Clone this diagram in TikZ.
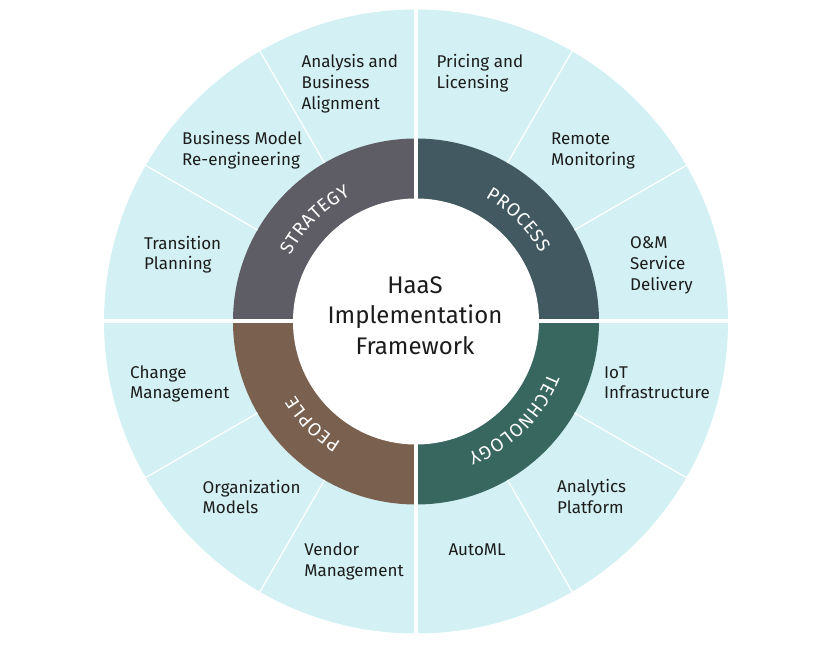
\documentclass[tikz,border=0pt]{standalone}
\usepackage{fontspec}
\setmainfont{Fira Sans}
\usetikzlibrary{decorations.text}
\definecolor{ringbg}{HTML}{D3F1F4}
\definecolor{cstrat}{HTML}{5E5D65}
\definecolor{cproc}{HTML}{435961}
\definecolor{ctech}{HTML}{37675F}
\definecolor{cpeop}{HTML}{7A604F}
\definecolor{ink}{HTML}{1C1C1C}
\newcommand{\lbl}[1]{\begin{tabular}[t]{@{}l@{}}#1\end{tabular}}
\newcommand{\ringfmt}{\fontsize{18.5}{22}\selectfont\kern0.6pt}
\begin{document}
\begin{tikzpicture}[x=1pt,y=1pt,
  lab/.style={anchor=base west, inner sep=0pt, text=ink, font=\fontsize{17}{20.7}\selectfont},
  ringtext/.style={decorate, decoration={text along path, text align=center, text color=white, text={#1}}},
  divider/.style={white, line width=1.2pt},
  gapline/.style={white, line width=4pt}
]
\useasboundingbox (-416,-325.5) rectangle (403,321.5);
\fill[white] (-416,-325.5) rectangle (403,321.5);
% outer ring
\fill[ringbg] (0,0) circle[radius=312];
% inner ring quadrants
\fill[cstrat] (0,0) -- (180:183) arc[start angle=180,end angle=90,radius=183] -- cycle;
\fill[cproc]  (0,0) -- (90:183) arc[start angle=90,end angle=0,radius=183] -- cycle;
\fill[ctech]  (0,0) -- (0:183) arc[start angle=0,end angle=-90,radius=183] -- cycle;
\fill[cpeop]  (0,0) -- (270:183) arc[start angle=270,end angle=180,radius=183] -- cycle;
\fill[white] (0,0) circle[radius=123];
% thin dividers
\foreach \a in {30,60,120,150,210,240,300,330}
  \draw[divider] (\a:183) -- (\a:313);
% quadrant gaps
\draw[gapline] (-316,0) -- (316,0);
\draw[gapline] (0,-316) -- (0,316);
% ring labels
\path[ringtext={|\ringfmt|STRATEGY}] (180:142) arc[start angle=180,end angle=90,radius=142];
\path[ringtext={|\ringfmt|PROCESS}] (90:142) arc[start angle=90,end angle=0,radius=142];
\path[ringtext={|\ringfmt|TECHNOLOGY}] (0:142) arc[start angle=0,end angle=-90,radius=142];
\path[ringtext={|\ringfmt|PEOPLE}] (270:142) arc[start angle=270,end angle=180,radius=142];
% title
\node[anchor=base, inner sep=0pt, text=ink, font=\fontsize{24}{30.7}\selectfont] (title) at (-1,28.2)
  {\begin{tabular}[t]{@{}c@{}}HaaS\\Implementation\\Framework\end{tabular}};
% outer labels
\node[lab] (l1)  at (-114.5,253.8) {\lbl{Analysis and\\Business\\Alignment}};
\node[lab] (l2)  at (20.5,253.5)   {\lbl{Pricing and\\Licensing}};
\node[lab] (l3)  at (-234,176.5)   {\lbl{Business Model\\Re-engineering}};
\node[lab] (l4)  at (135,176.5)    {\lbl{Remote\\Monitoring}};
\node[lab] (l5)  at (-272,72.2)    {\lbl{Transition\\Planning}};
\node[lab] (l6)  at (214,72.5)     {\lbl{O\&M\\Service\\Delivery}};
\node[lab] (l7)  at (-286,-56.8)   {\lbl{Change\\Management}};
\node[lab] (l8)  at (188,-56.8)    {\lbl{IoT\\Infrastructure}};
\node[lab] (l9)  at (-213.5,-171.8) {\lbl{Organization\\Models}};
\node[lab] (l10) at (141,-171.2)   {\lbl{Analytics\\Platform}};
\node[lab] (l11) at (-111.8,-234.2) {\lbl{Vendor\\Management}};
\node[lab] (l12) at (32.3,-233.5)  {\lbl{AutoML}};
\end{tikzpicture}
\end{document}
